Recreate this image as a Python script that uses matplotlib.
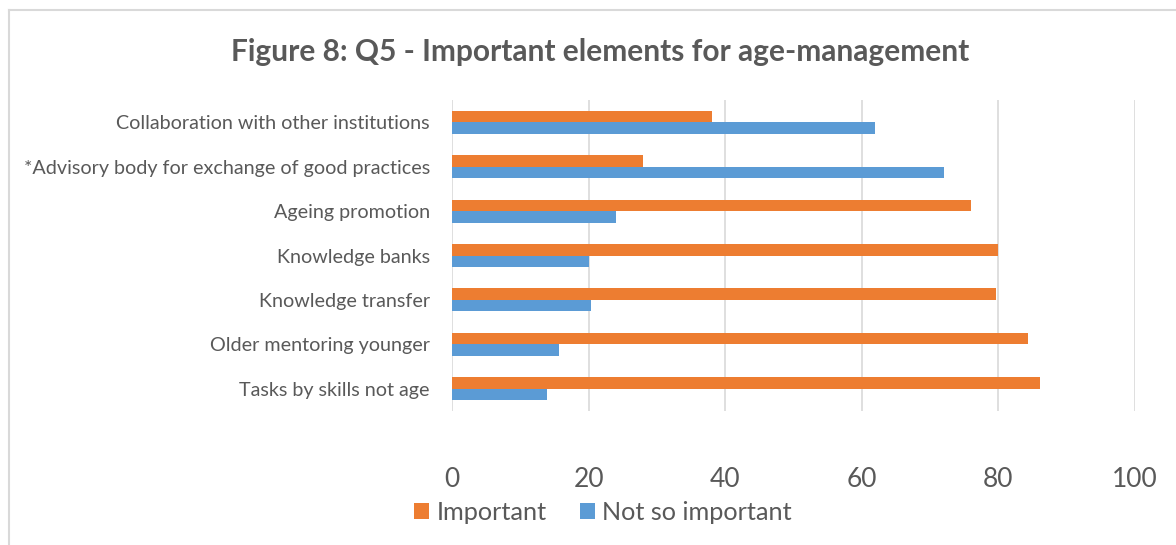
import matplotlib.pyplot as plt
import numpy as np
from matplotlib.lines import Line2D
from matplotlib.patches import Patch

# survey answers, percent of respondents (top row first)
categories = [
    "Collaboration with other institutions",
    "*Advisory body for exchange of good practices",
    "Ageing promotion",
    "Knowledge banks",
    "Knowledge transfer",
    "Older mentoring younger",
    "Tasks by skills not age",
]
important = [38.0, 28.0, 76.0, 80.0, 79.7, 84.4, 86.1]
not_so_important = [62.0, 72.0, 24.0, 20.0, 20.3, 15.6, 13.9]
x_ticks = [0, 20, 40, 60, 80, 100]

orange = "#ED7D31"
blue = "#5B9BD5"
text_col = "#595959"
grid_col = "#D9D9D9"

plt.rcParams['font.family'] = ['Lato', 'DejaVu Sans']

fig = plt.figure(figsize=(11.76, 5.45), dpi=100)
ax = fig.add_axes([452/1176, (545-411)/545, (1135-452)/1176, (411-100)/545])

y = np.arange(len(categories))
h = 0.26
ax.barh(y - h/2, important, height=h, color=orange, label="Important", zorder=3)
ax.barh(y + h/2, not_so_important, height=h, color=blue, label="Not so important", zorder=3)

ax.set_xlim(0, 100)
ax.set_ylim(len(categories) - 0.5, -0.5)
ax.set_xticks(x_ticks)
ax.set_xticklabels([str(t) for t in x_ticks], fontsize=19, color=text_col)
ax.set_yticks(y)
ax.set_yticklabels(categories, fontsize=14.2, color=text_col)
ax.tick_params(axis='x', length=0, pad=40)
ax.tick_params(axis='y', length=0, pad=16)
ax.grid(axis='x', color=grid_col, linewidth=1.2, zorder=0)
for s in ax.spines.values():
    s.set_visible(False)

fig.text(600/1176, 1 - 52/545, "Figure 8: Q5 - Important elements for age-management",
         ha='center', va='center', fontsize=21.5, fontweight='bold', color=text_col)

handles = [Patch(facecolor=orange, label="Important"),
           Patch(facecolor=blue, label="Not so important")]
fig.legend(handles=handles, loc='center', bbox_to_anchor=(603/1176, 1 - 512/545),
           ncol=2, frameon=False, fontsize=18.2, labelcolor=text_col,
           handlelength=0.6, handleheight=0.6, handletextpad=0.3, columnspacing=1.3)

# chart frame
fig.add_artist(Line2D([8.5/1176, 8.5/1176], [0, 1 - 10/545], color=grid_col, lw=1.5))
fig.add_artist(Line2D([8.5/1176, 1], [1 - 10/545, 1 - 10/545], color=grid_col, lw=1.5))

fig.savefig("out.png", dpi=100)
